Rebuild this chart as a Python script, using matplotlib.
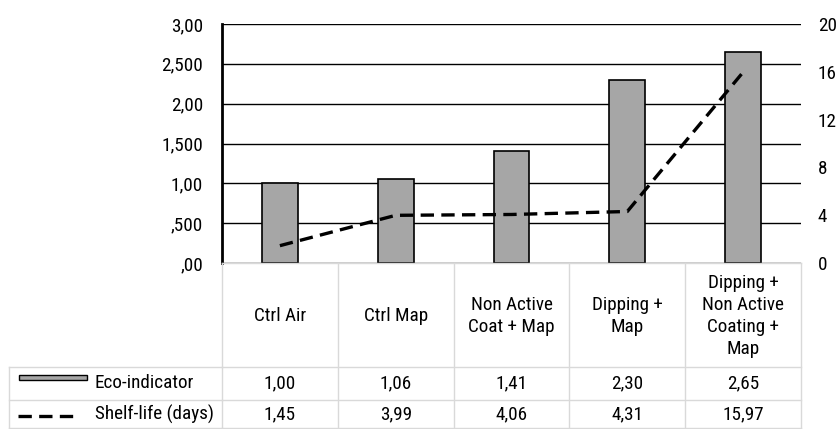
import matplotlib
matplotlib.use("Agg")
import matplotlib.pyplot as plt
from matplotlib.transforms import blended_transform_factory
from matplotlib.lines import Line2D
from matplotlib.patches import Rectangle

plt.rcParams['font.family'] = ['Roboto Condensed', 'Liberation Sans', 'DejaVu Sans']

categories = ["Ctrl Air", "Ctrl Map", "Non Active\nCoat + Map", "Dipping +\nMap",
              "Dipping +\nNon Active\nCoating +\nMap"]
eco_indicator = [1.00, 1.06, 1.41, 2.30, 2.65]
shelf_life = [1.45, 3.99, 4.06, 4.31, 15.97]
left_ticks = [0, 0.5, 1.0, 1.5, 2.0, 2.5, 3.0]
left_tick_labels = [",00", ",500", "1,00", "1,500", "2,00", "2,500", "3,00"]
right_ticks = [0, 4, 8, 12, 16, 20]
series_names = ["Eco-indicator", "Shelf-life (days)"]

FS = 13.8


def fmt(v):
    return f"{v:.2f}".replace(".", ",")


W, H = 840, 429
fig = plt.figure(figsize=(W / 100, H / 100), dpi=100)

x0, x1, y_top, y_bot = 222, 801, 24, 263
ax = fig.add_axes([x0 / W, 1 - y_bot / H, (x1 - x0) / W, (y_bot - y_top) / H])
ax2 = ax.twinx()

xs = list(range(len(categories)))
ax.bar(xs, eco_indicator, width=0.31, color="#a6a6a6", edgecolor="black",
       linewidth=1.2, zorder=3)
ax.set_xlim(-0.5, len(categories) - 0.5)
ax.set_ylim(0, 3)
ax.set_yticks(left_ticks)
ax.set_yticklabels(left_tick_labels)
ax.yaxis.grid(True, color="black", linewidth=1.0, zorder=0)
ax.set_axisbelow(True)
ax.set_xticks([])
for side in ["top", "right", "bottom"]:
    ax.spines[side].set_visible(False)
ax.spines["left"].set_linewidth(2.0)
ax.tick_params(axis="y", length=0, pad=13.5, labelsize=FS)

dash = (0, (4, 2.2))
ax2.plot(xs, shelf_life, color="black", linewidth=2.4, linestyle=dash, zorder=4)
ax2.set_ylim(0, 20)
ax2.set_yticks(right_ticks)
ax2.tick_params(axis="y", length=0, pad=12, labelsize=FS)
for side in ["top", "right", "bottom", "left"]:
    ax2.spines[side].set_visible(False)

# data table underneath the plot
grid_col = "#d9d9d9"
trans = blended_transform_factory(ax.transData, fig.transFigure)
fy = lambda py: 1 - py / H
fx = lambda px: px / W
row_cat_bot, row1_bot, row2_bot = 367, 400, 428
left_edge = 9

# horizontal lines spanning data columns
for py in [y_bot, row_cat_bot, row1_bot, row2_bot]:
    fig.add_artist(Line2D([fx(x0), fx(x1)], [fy(py), fy(py)], color=grid_col, lw=1.0))
for py in [row_cat_bot, row1_bot, row2_bot]:
    fig.add_artist(Line2D([fx(left_edge), fx(x0)], [fy(py), fy(py)], color=grid_col, lw=1.0))
# vertical lines
for i in range(len(categories) + 1):
    xb = i - 0.5
    fig.add_artist(Line2D([xb, xb], [fy(y_bot), fy(row2_bot)], color=grid_col, lw=1.0,
                          transform=trans))
fig.add_artist(Line2D([fx(left_edge), fx(left_edge)], [fy(row_cat_bot), fy(row2_bot)],
                      color=grid_col, lw=1.0))

# category labels
for i, c in enumerate(categories):
    fig.text(i, fy((y_bot + row_cat_bot) / 2 + 1), c, transform=trans, ha="center",
             va="center", fontsize=FS, linespacing=1.28)
# values
for i, v in enumerate(eco_indicator):
    fig.text(i, fy((row_cat_bot + row1_bot) / 2), fmt(v), transform=trans,
             ha="center", va="center", fontsize=FS)
for i, v in enumerate(shelf_life):
    fig.text(i, fy((row1_bot + row2_bot) / 2), fmt(v), transform=trans,
             ha="center", va="center", fontsize=FS)

# legend keys
fig.add_artist(Rectangle((fx(19), fy(380)), fx(87) - fx(19), fy(375) - fy(380),
                         facecolor="#a6a6a6", edgecolor="black", lw=1.0))
fig.add_artist(Line2D([fx(18), fx(80)], [fy(416), fy(416)], color="black", lw=2.4,
                      linestyle=dash))
fig.text(fx(95), fy((row_cat_bot + row1_bot) / 2), series_names[0], ha="left",
         va="center", fontsize=FS)
fig.text(fx(95), fy((row1_bot + row2_bot) / 2), series_names[1], ha="left",
         va="center", fontsize=FS)

fig.savefig("out.png", dpi=100)
